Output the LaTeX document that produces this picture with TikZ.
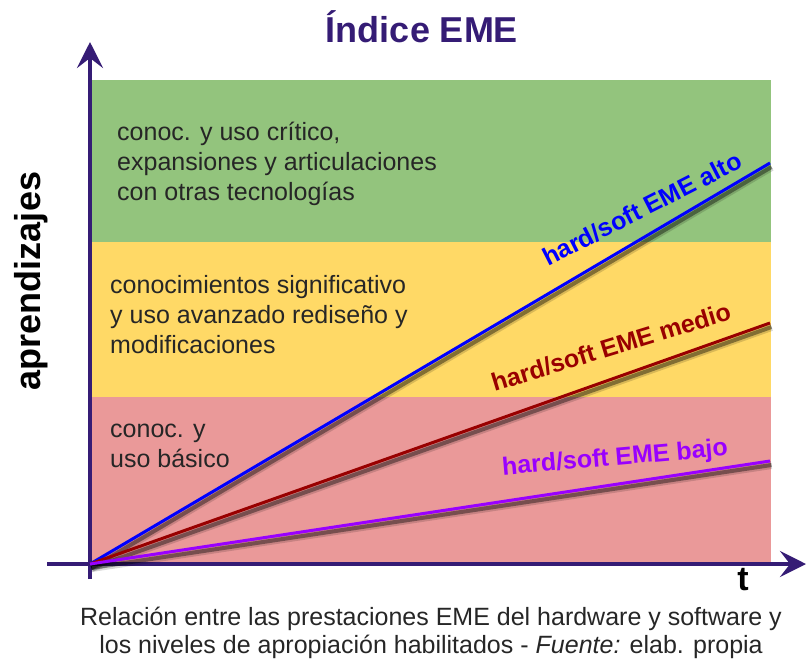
\documentclass[tikz,border=0pt]{standalone}
\usepackage{fontspec}
\setmainfont{Liberation Sans}
\usetikzlibrary{arrows.meta,calc}

\definecolor{emepurple}{HTML}{351C75}
\definecolor{bandgreen}{HTML}{93C47D}
\definecolor{bandyellow}{HTML}{FFD966}
\definecolor{bandred}{HTML}{EA9999}
\definecolor{altoblue}{HTML}{0000FF}
\definecolor{mediored}{HTML}{990000}
\definecolor{bajoviolet}{HTML}{9900FF}

\begin{document}
\begin{tikzpicture}[x=1pt, y=-1pt,
    axisline/.style={emepurple, line width=4pt, -{Stealth[length=26pt, width=26pt, inset=10pt]}},
    shadowwide/.style={black, opacity=0.15, line width=8pt},
    shadownarrow/.style={black, opacity=0.4, line width=4pt},
    emeline/.style={line width=3pt},
    bandtext/.style={anchor=base west, align=left, inner sep=0pt, text=black!85, font=\fontsize{25}{30}\selectfont},
    emelabel/.style={font=\fontsize{25}{30}\selectfont\bfseries, inner sep=0pt}]
	\useasboundingbox (0,0) rectangle (806,661);

	% bands
	\fill[bandgreen] (90, 80) rectangle (771, 242);
	\fill[bandyellow] (90, 242) rectangle (771, 397);
	\fill[bandred] (90, 397) rectangle (771, 564);

	% axes
	\coordinate (O) at (90, 564);
	\coordinate (xstart) at (47, 564);
	\coordinate (xend) at (806, 564);
	\coordinate (ystart) at (90, 579);
	\coordinate (yend) at (90, 42);
	\draw[axisline] (xstart) -- (xend);
	\draw[axisline] (ystart) -- (yend);

	% end points of the three lines
	\coordinate (alto) at (770, 163);
	\coordinate (medio) at (770, 323);
	\coordinate (bajo) at (770, 461);

	% shadows
	\foreach \p in {alto, medio, bajo} {
		\draw[shadowwide] ($ (O)+(1.5,4) $) -- ($ (\p)+(1.5,4) $);
		\draw[shadownarrow] ($ (O)+(1.5,4) $) -- ($ (\p)+(1.5,4) $);
	}

	% lines
	\draw[emeline, altoblue] (O) -- (alto);
	\draw[emeline, mediored] (O) -- (medio);
	\draw[emeline, bajoviolet] (O) -- (bajo);

	\node[emelabel, altoblue, rotate=27] (altolbl) at (642, 209) {hard/soft EME alto};
	\node[emelabel, mediored, rotate=17] (mediolbl) at (611, 347) {hard/soft EME medio};
	\node[emelabel, bajoviolet, rotate=5] (bajolbl) at (615, 459) {hard/soft EME bajo};

	% texts in the bands (base = last line)
	\node[bandtext] (altotext) at (117, 200) {conoc. y uso crítico,\\expansiones y articulaciones\\con otras tecnologías};
	\node[bandtext] (mediotext) at (110, 353) {conocimientos significativo\\y uso avanzado rediseño y\\modificaciones};
	\node[bandtext] (bajotext) at (110, 467) {conoc. y\\uso básico};

	% axis labels and title
	\node[rotate=90, font=\fontsize{36}{40}\selectfont\bfseries] (ylabel) at (31, 281) {aprendizajes};
	\node[font=\fontsize{34}{40}\selectfont\bfseries] (tlabel) at (743, 580) {t};
	\node[anchor=base, text=emepurple, font=\fontsize{36}{40}\selectfont\bfseries] (title) at (422, 43) {Índice EME};

	\node[anchor=base, align=center, text=black!85, font=\fontsize{25}{28}\selectfont] (caption) at (431, 653)
		{Relación entre las prestaciones EME del hardware y software y\\los niveles de apropiación habilitados - \textit{Fuente:} elab. propia};
\end{tikzpicture}
\end{document}
